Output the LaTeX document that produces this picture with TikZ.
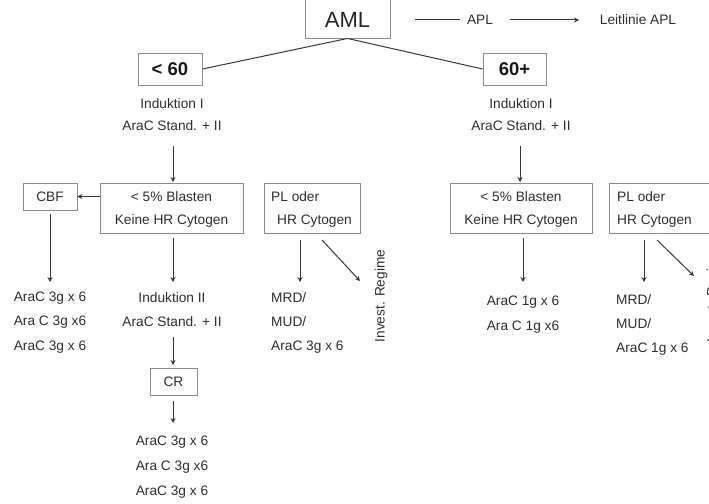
\documentclass[tikz,border=0pt]{standalone}
\usepackage{fontspec}
\setmainfont{Liberation Sans}
\usetikzlibrary{arrows.meta}
\begin{document}
\begin{tikzpicture}[x=1pt,y=-1pt,
  box/.style={draw=black!45, line width=0.9pt, inner sep=0pt},
  txt/.style={font=\fontsize{13.7}{15}\selectfont, text=black!82, inner sep=0pt},
  big/.style={font=\fontsize{18.5}{20}\selectfont\bfseries, text=black!90, inner sep=0pt},
  conn/.style={draw=black!78, line width=1pt},
  arr/.style={conn, -{Stealth[length=5pt,width=5pt]}}]
\useasboundingbox (0,0) rectangle (709,503);
\clip (0,0) rectangle (709,503);
% top
\node[box, minimum width=85pt, minimum height=42pt] (aml) at (347.5,17) {};
\node[inner sep=0pt, font=\fontsize{22}{24}\selectfont, text=black!85] (amlt) at (347.5,20) {AML};
\node[txt] (apl) at (480,20) {APL};
\node[txt] (leit) at (638,20) {Leitlinie APL};
\coordinate (a1) at (415,20);
\coordinate (a2) at (460,20);
\coordinate (b1) at (510,20);
\coordinate (b2) at (579,20);
\draw[conn] (a1) -- (a2);
\draw[arr] (b1) -- (b2);
% age boxes
\node[box, minimum width=64pt, minimum height=32pt] (u60) at (170,69) {};
\node[big] at (170,69) {< 60};
\node[box, minimum width=63pt, minimum height=32pt] (o60) at (514.5,69) {};
\node[big] at (514.5,69) {60+};
\draw[conn] (aml.south) -- (u60.east);
\draw[conn] (aml.south) -- (o60.west);
% left induction
\node[txt] (ind1) at (172,104) {Induktion I};
\node[txt] (ara1) at (172,126) {AraC Stand. + II};
\coordinate (l1a) at (173,146);
\node[box, minimum width=143pt, minimum height=50pt] (bl) at (171.5,208) {};
\node[txt] at (171.5,197) {< 5\% Blasten};
\node[txt] at (171.5,221) {Keine HR Cytogen};
\draw[arr] (l1a) -- (173,182);
\node[box, minimum width=54pt, minimum height=27pt] (cbf) at (50,196.5) {};
\node[txt] at (50,197) {CBF};
\draw[arr] (bl.west |- cbf.east) -- (cbf.east);
\node[box, minimum width=96pt, minimum height=50pt] (pl) at (312,208) {};
\node[txt, anchor=west] at (271,197) {PL oder};
\node[txt, anchor=west] at (277,221) {HR Cytogen};
% left column lower
\coordinate (cbfb) at (50,214);
\draw[arr] (cbfb) -- (50,282);
\node[txt] at (50,298) {AraC 3g x 6};
\node[txt] at (50,322) {Ara C 3g x6};
\node[txt] at (50,347) {AraC 3g x 6};
\coordinate (blb) at (173,238);
\draw[arr] (blb) -- (173,282);
\node[txt] (ind2) at (172,298) {Induktion II};
\node[txt] (ara2) at (172,322) {AraC Stand. + II};
\coordinate (i2b) at (173,337);
\node[box, minimum width=47pt, minimum height=27pt] (cr) at (173.5,382) {};
\node[txt] at (173.5,382) {CR};
\draw[arr] (i2b) -- (173,365);
\coordinate (crb) at (173,401);
\draw[arr] (crb) -- (173,423);
\node[txt] at (172,442) {AraC 3g x 6};
\node[txt] at (172,467) {Ara C 3g x6};
\node[txt] at (172,492) {AraC 3g x 6};
\coordinate (plb) at (300,240);
\draw[arr] (plb) -- (300,282);
\coordinate (pld) at (322,240);
\draw[arr] (pld) -- (360,281);
\node[txt, rotate=90] (inv) at (381,296) {Invest. Regime};
\node[txt, anchor=west] at (271,298) {MRD/};
\node[txt, anchor=west] at (271,322) {MUD/};
\node[txt, anchor=west] at (271,347) {AraC 3g x 6};
% right side
\node[txt] (ind1r) at (521,104) {Induktion I};
\node[txt] (ara1r) at (521,126) {AraC Stand. + II};
\coordinate (r1a) at (520,146);
\node[box, minimum width=142pt, minimum height=50pt] (br) at (521,208) {};
\node[txt] at (521,197) {< 5\% Blasten};
\node[txt] at (521,221) {Keine HR Cytogen};
\draw[arr] (r1a) -- (520,182);
\node[box, minimum width=100pt, minimum height=50pt] (plr) at (659,208) {};
\node[txt, anchor=west] at (617,197) {PL oder};
\node[txt, anchor=west] at (617,221) {HR Cytogen};
\coordinate (brb) at (523,238);
\draw[arr] (brb) -- (523,282);
\node[txt] at (523,302) {AraC 1g x 6};
\node[txt] at (523,327) {Ara C 1g x6};
\coordinate (plrb) at (644,240);
\draw[arr] (plrb) -- (644,282);
\coordinate (plrd) at (657,240);
\draw[arr] (plrd) -- (694,276);
\node[txt, anchor=west] at (616,300) {MRD/};
\node[txt, anchor=west] at (616,324) {MUD/};
\node[txt, anchor=west] at (616,349) {AraC 1g x 6};
\node[txt, rotate=90] (invr) at (713,296) {Invest. Regime};
\end{tikzpicture}
\end{document}
